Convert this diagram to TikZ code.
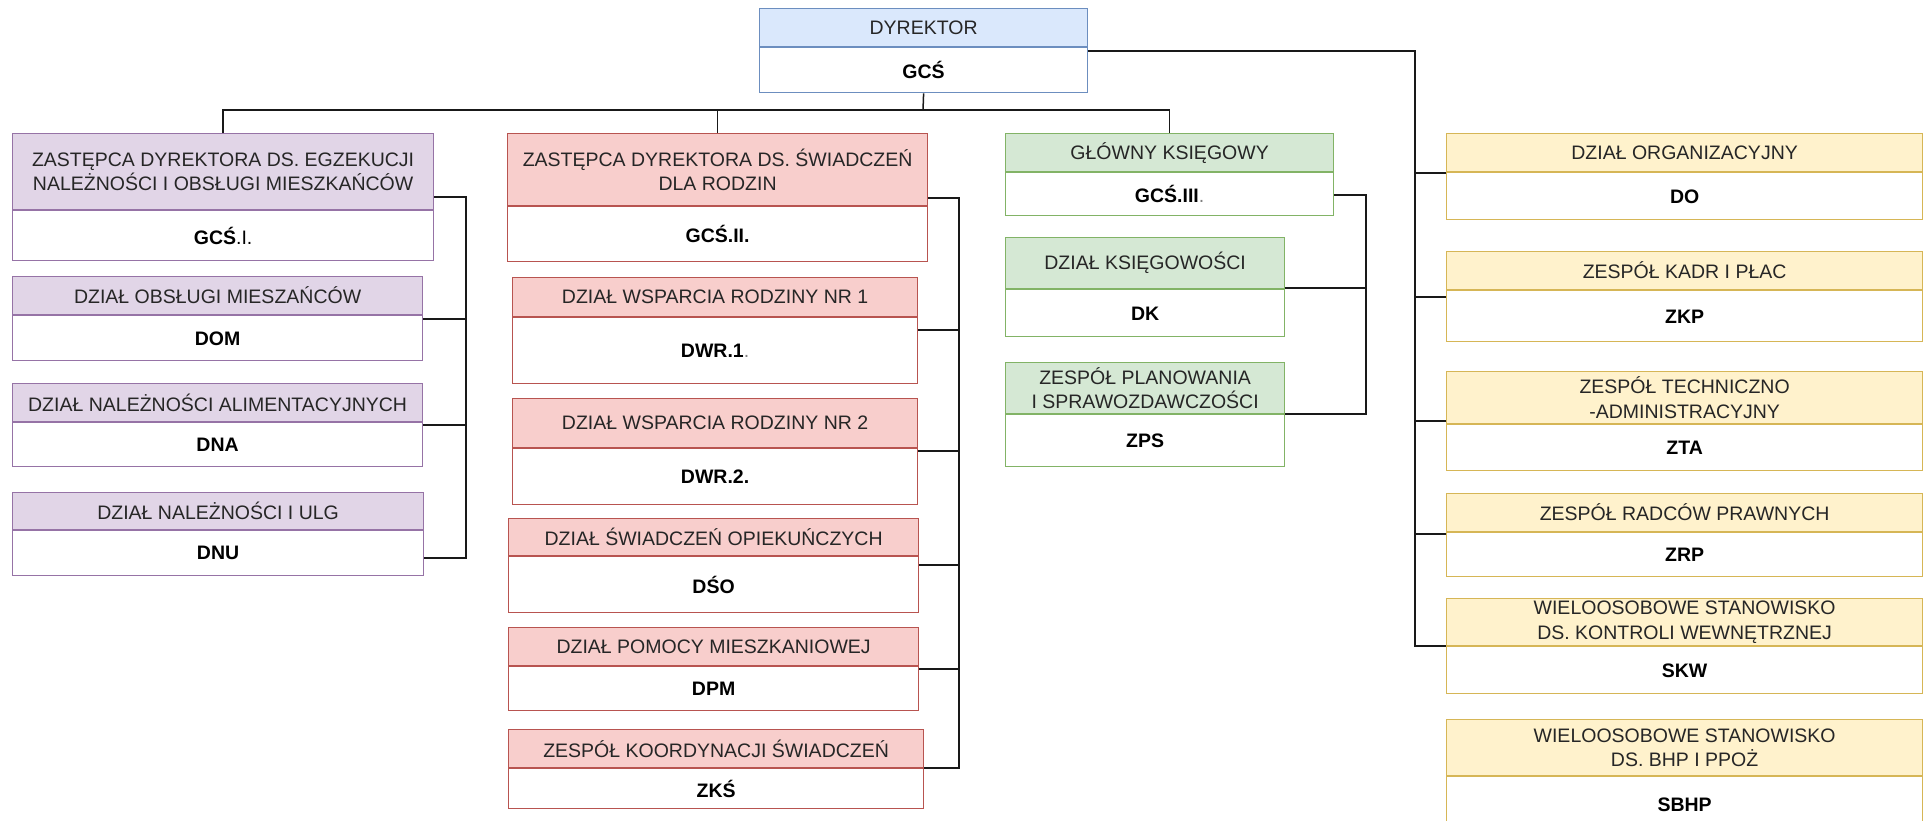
\documentclass[tikz,border=0pt]{standalone}
\usepackage{fontspec}
\setmainfont{Liberation Sans}

\definecolor{blueFill}{HTML}{DAE8FC}\definecolor{blueLine}{HTML}{6C8EBF}
\definecolor{purpleFill}{HTML}{E1D5E7}\definecolor{purpleLine}{HTML}{9673A6}
\definecolor{redFill}{HTML}{F8CECC}\definecolor{redLine}{HTML}{B85450}
\definecolor{greenFill}{HTML}{D5E8D4}\definecolor{greenLine}{HTML}{82B366}
\definecolor{yellowFill}{HTML}{FFF2CC}\definecolor{yellowLine}{HTML}{D6B656}
\definecolor{headText}{HTML}{262626}

\begin{document}
\begin{tikzpicture}[x=0.5pt, y=-0.5pt,
    unitbox/.style={rectangle, inner sep=0pt, line width=0.6pt, align=center, anchor=north west},
    unithead/.style={unitbox, draw=#1Line, fill=#1Fill, text=headText, font=\fontsize{9.75}{12.2}\selectfont},
    unitcode/.style={unitbox, draw=#1Line, fill=white, font=\fontsize{9.75}{12.2}\selectfont\bfseries}]
    \useasboundingbox (0,0) rectangle (1925,820);

    % dyrektor
    \node[unithead=blue, minimum width=164pt, minimum height=19pt] (gcs-t) at (759,8) {DYREKTOR};
    \node[unitcode=blue, minimum width=164pt, minimum height=22.5pt] (gcs) at (gcs-t.south west) {GCŚ};

    % pion I
    \node[unithead=purple, minimum width=210.5pt, minimum height=38pt] (gcsI-t) at (12,133) {ZASTĘPCA DYREKTORA DS. EGZEKUCJI\\NALEŻNOŚCI I OBSŁUGI MIESZKAŃCÓW};
    \node[unitcode=purple, minimum width=210.5pt, minimum height=25pt] (gcsI) at (gcsI-t.south west) {GCŚ\textmd{.I.}};
    \node[unithead=purple, minimum width=205pt, minimum height=19pt] (dom-t) at (12,276) {DZIAŁ OBSŁUGI MIESZAŃCÓW};
    \node[unitcode=purple, minimum width=205pt, minimum height=22.5pt] (dom) at (dom-t.south west) {DOM};
    \node[unithead=purple, minimum width=205pt, minimum height=19pt] (dna-t) at (12,383) {DZIAŁ NALEŻNOŚCI ALIMENTACYJNYCH};
    \node[unitcode=purple, minimum width=205pt, minimum height=22pt] (dna) at (dna-t.south west) {DNA};
    \node[unithead=purple, minimum width=205.5pt, minimum height=18.5pt] (dnu-t) at (12,492) {DZIAŁ NALEŻNOŚCI I ULG};
    \node[unitcode=purple, minimum width=205.5pt, minimum height=22.5pt] (dnu) at (dnu-t.south west) {DNU};

    % pion II
    \node[unithead=red, minimum width=210pt, minimum height=36pt] (gcsII-t) at (507,133) {ZASTĘPCA DYREKTORA DS. ŚWIADCZEŃ\\DLA RODZIN};
    \node[unitcode=red, minimum width=210pt, minimum height=27.5pt] (gcsII) at (gcsII-t.south west) {GCŚ.II.};
    \node[unithead=red, minimum width=202.5pt, minimum height=19.5pt] (dwrI-t) at (512,277) {DZIAŁ WSPARCIA RODZINY NR 1};
    \node[unitcode=red, minimum width=202.5pt, minimum height=33pt] (dwrI) at (dwrI-t.south west) {DWR.1{\mdseries\color{gray}.}};
    \node[unithead=red, minimum width=202.5pt, minimum height=24.5pt] (dwrII-t) at (512,398) {DZIAŁ WSPARCIA RODZINY NR 2};
    \node[unitcode=red, minimum width=202.5pt, minimum height=28pt] (dwrII) at (dwrII-t.south west) {DWR.2.};
    \node[unithead=red, minimum width=205pt, minimum height=18.5pt] (dso-t) at (508,518) {DZIAŁ ŚWIADCZEŃ OPIEKUŃCZYCH};
    \node[unitcode=red, minimum width=205pt, minimum height=28pt] (dso) at (dso-t.south west) {DŚO};
    \node[unithead=red, minimum width=205pt, minimum height=19pt] (dpm-t) at (508,627) {DZIAŁ POMOCY MIESZKANIOWEJ};
    \node[unitcode=red, minimum width=205pt, minimum height=22pt] (dpm) at (dpm-t.south west) {DPM};
    \node[unithead=red, minimum width=207.5pt, minimum height=19pt] (zks-t) at (508,729) {ZESPÓŁ KOORDYNACJI ŚWIADCZEŃ};
    \node[unitcode=red, minimum width=207.5pt, minimum height=20pt] (zks) at (zks-t.south west) {ZKŚ};

    % pion III
    \node[unithead=green, minimum width=164pt, minimum height=19pt] (gcsIII-t) at (1005,133) {GŁÓWNY KSIĘGOWY};
    \node[unitcode=green, minimum width=164pt, minimum height=21.5pt] (gcsIII) at (gcsIII-t.south west) {GCŚ.III{\mdseries\color{gray}.}};
    \node[unithead=green, minimum width=139.5pt, minimum height=25.5pt] (dk-t) at (1005,237) {DZIAŁ KSIĘGOWOŚCI};
    \node[unitcode=green, minimum width=139.5pt, minimum height=23.5pt] (dk) at (dk-t.south west) {DK};
    \node[unithead=green, minimum width=139.5pt, minimum height=25.5pt] (zps-t) at (1005,362) {ZESPÓŁ PLANOWANIA\\I SPRAWOZDAWCZOŚCI};
    \node[unitcode=green, minimum width=139.5pt, minimum height=26pt] (zps) at (zps-t.south west) {ZPS};

    % komorki podlegle dyrektorowi
    \node[unithead=yellow, minimum width=238pt, minimum height=19pt] (do-t) at (1446,133) {DZIAŁ ORGANIZACYJNY};
    \node[unitcode=yellow, minimum width=238pt, minimum height=23.5pt] (do) at (do-t.south west) {DO};
    \node[unithead=yellow, minimum width=238pt, minimum height=19pt] (zkp-t) at (1446,251) {ZESPÓŁ KADR I PŁAC};
    \node[unitcode=yellow, minimum width=238pt, minimum height=25.5pt] (zkp) at (zkp-t.south west) {ZKP};
    \node[unithead=yellow, minimum width=238pt, minimum height=26pt] (zta-t) at (1446,371) {ZESPÓŁ TECHNICZNO\\-ADMINISTRACYJNY};
    \node[unitcode=yellow, minimum width=238pt, minimum height=23pt] (zta) at (zta-t.south west) {ZTA};
    \node[unithead=yellow, minimum width=238pt, minimum height=19pt] (zrp-t) at (1446,493) {ZESPÓŁ RADCÓW PRAWNYCH};
    \node[unitcode=yellow, minimum width=238pt, minimum height=22pt] (zrp) at (zrp-t.south west) {ZRP};
    \node[unithead=yellow, minimum width=238pt, minimum height=23.5pt] (skw-t) at (1446,598) {WIELOOSOBOWE STANOWISKO\\DS. KONTROLI WEWNĘTRZNEJ};
    \node[unitcode=yellow, minimum width=238pt, minimum height=23.5pt] (skw) at (skw-t.south west) {SKW};
    \node[unithead=yellow, minimum width=238pt, minimum height=28pt] (sbhp-t) at (1446,719) {WIELOOSOBOWE STANOWISKO\\DS. BHP I PPOŻ};
    \node[unitcode=yellow, minimum width=238pt, minimum height=27.5pt] (sbhp) at (sbhp-t.south west) {SBHP};

    % polaczenia
    \coordinate (bus) at (923,110);
    \coordinate (pbus) at (466,0);
    \coordinate (rbus) at (959,0);
    \coordinate (gbus) at (1366,0);
    \coordinate (ybus) at (1415,0);
    \foreach \n/\s in {gcsI/6.5pt, dom/-2pt, dna/-1.5pt, dnu/-14pt, gcsII/4pt, dwrI/-6.5pt, dwrII/-1.5pt, dso/-4.5pt, dpm/-1.5pt, zks/0pt, gcsIII/-11.5pt, dk/0.5pt, zps/0pt, gcs/-2pt}
        \coordinate (\n-s) at ([yshift=\s]\n.north east);
    \foreach \n/\s in {do/-0.5pt, zkp/-3.5pt, zta/1.5pt, zrp/-1pt, skw/0pt}
        \coordinate (\n-s) at ([yshift=\s]\n.north west);

    \begin{scope}[line width=0.75pt, black!90]
        \draw (gcs.south) -- (bus);
        \draw (gcsI-t.north) |- (bus) -| (gcsIII-t.north);
        \draw (gcsII-t.north) -- (gcsII-t.north |- bus);

        \draw (gcsI-s) -| (pbus |- dnu-s) -- (dnu-s);
        \foreach \n in {dom, dna} \draw (\n-s) -- (\n-s -| pbus);

        \draw (gcsII-s) -| (rbus |- zks-s) -- (zks-s);
        \foreach \n in {dwrI, dwrII, dso, dpm} \draw (\n-s) -- (\n-s -| rbus);

        \draw (gcsIII-s) -| (gbus |- zps-s) -- (zps-s);
        \draw (dk-s) -- (dk-s -| gbus);

        \draw (gcs-s) -| (ybus |- skw-s) -- (skw-s);
        \foreach \n in {do, zkp, zta, zrp} \draw (\n-s) -- (\n-s -| ybus);
    \end{scope}
\end{tikzpicture}
\end{document}
